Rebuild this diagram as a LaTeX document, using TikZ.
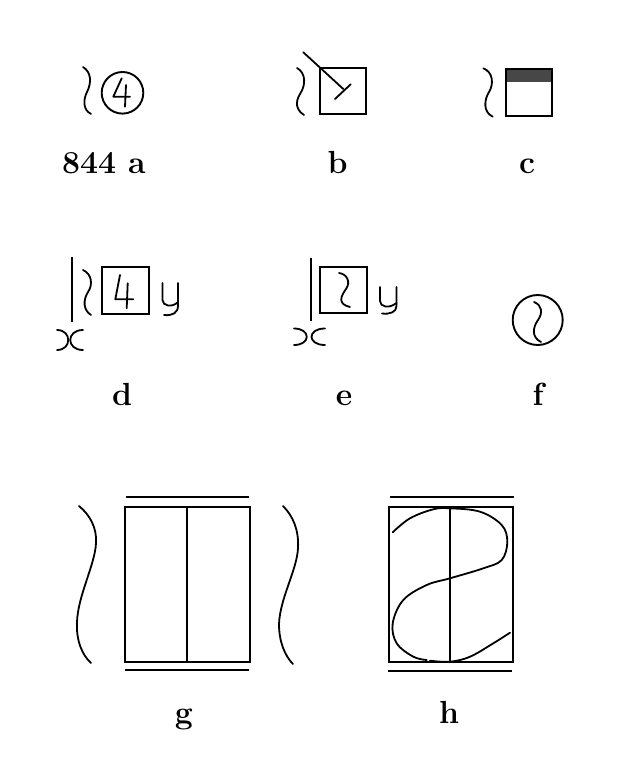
\documentclass[tikz,border=0pt]{standalone}
\begin{document}
\begin{tikzpicture}[x=1pt,y=-1pt,
  ink/.style={line width=1.8pt, line cap=round, line join=round},
  frame/.style={line width=1.9pt},
  thin/.style={line width=1.5pt},
  lab/.style={font=\fontsize{32}{38}\selectfont\bfseries, inner sep=0pt, anchor=base}]
\useasboundingbox (0,0) rectangle (622,781);

% ---------- a ----------
\draw[ink] (83,67) .. controls (91,72) and (92,82) .. (87,92) .. controls (83,100) and (83,110) .. (91,114);
\draw[frame] (122.5,92.8) circle[radius=20.8];
\draw[ink] (121.7,78.3) -- (113.3,96.7) -- (130,96.7);
\draw[ink] (126,85) -- (125,106.7);
\node[lab, anchor=base west] (la) at (62,173) {844 a};

% ---------- b ----------
\draw[ink] (297,68) .. controls (306,73) and (306,85) .. (300,94) .. controls (295,102) and (296,110) .. (304,115);
\draw[frame] (320,68.3) rectangle (366,114.3);
\draw[ink] (303.3,52.3) -- (343.3,89);
\draw[ink] (335,99) -- (350.7,84.3);
\node[lab] (lb) at (337.5,173) {b};

% ---------- c ----------
\draw[ink] (483.3,68.3) .. controls (493,72) and (494,84) .. (489,92) .. controls (484,100) and (483,112) .. (492.7,116.7);
\fill[black!72] (506,69) rectangle (552,81.7);
\draw[frame] (506,69) rectangle (552,115.7);
\node[lab] (lc) at (527,173) {c};

% ---------- d ----------
\draw[frame] (71.7,257) -- (71.7,321.7);
\draw[ink] (83,270) .. controls (92,274) and (93,285) .. (88,292) .. controls (83,300) and (83,310) .. (91,315);
\draw[frame] (101.7,266.7) rectangle (149,314);
\draw[ink] (120,275) -- (115.3,299.3) -- (133.3,299.3);
\draw[ink] (127.7,283.3) -- (126.7,308.3);
% y
\draw[ink] (162.5,283) -- (162.5,300) .. controls (162.5,306) and (172,308) .. (178,302);
\draw[ink] (178,283) -- (178,306) .. controls (178,313) and (172,316) .. (164,315);
% x
\draw[ink] (57,330) .. controls (72,330) and (72,350) .. (57,350);
\draw[ink] (83,330) .. controls (66,330) and (66,350) .. (83,350);
\node[lab] (ld) at (122,405) {d};

% ---------- e ----------
\draw[frame] (310.7,258) -- (310.7,320.7);
\draw[frame] (320,266.7) rectangle (366.7,313.3);
\draw[ink] (339,273) .. controls (347,274) and (351,282) .. (346,289) .. controls (341,296) and (337,304) .. (350,307);
% y
\draw[ink] (380,287) -- (380,301) .. controls (380,307) and (389,309) .. (396.5,303);
\draw[ink] (396.5,287) -- (396.5,306) .. controls (396.5,312) and (390,314.5) .. (382,313.5);
% x
\draw[ink] (294,328.5) .. controls (311,328.5) and (311,345) .. (294,345);
\draw[ink] (325,328.5) .. controls (307,328.5) and (307,345) .. (325,345);
\node[lab] (le) at (344,405) {e};

% ---------- f ----------
\draw[frame] (537.7,320) circle[radius=25];
\draw[ink] (534,302) .. controls (542,305) and (543,313) .. (538,320) .. controls (533,327) and (531,337) .. (541,342);
\node[lab] (lf) at (538,405) {f};

% ---------- g ----------
\draw[ink] (79,506) .. controls (90,515) and (97,528) .. (96,543) .. controls (95,565) and (78,595) .. (77,622) .. controls (76,640) and (82,655) .. (91,663);
\draw[frame] (125.7,497.3) -- (248.7,497.3);
\draw[frame] (125,506.7) rectangle (250,661.7);
\draw[thin] (187,506.7) -- (187,661.7);
\draw[frame] (125,670.3) -- (249.3,670.3);
\draw[ink] (283,506) .. controls (293,516) and (299,530) .. (298,548) .. controls (297,570) and (280,598) .. (279,624) .. controls (279,642) and (285,656) .. (293,664);
\node[lab] (lg) at (184,723) {g};

% ---------- h ----------
\draw[frame] (390,497.3) -- (514,497.3);
\draw[frame] (389.3,506.7) rectangle (513.3,661.7);
\draw[thin] (450,506.7) -- (450,661.7);
\draw[frame] (388.3,670.7) -- (512,670.7);
\draw[ink] plot[smooth, tension=0.6] coordinates {(392.7,532.3) (410,518.3) (433.3,509.3) (450,508.3) (480,511.7) (501.7,525) (507.3,541.7) (501.7,560) (483.3,568.3) (450,578.3) (426.7,585) (403.3,600) (392.7,623.3) (396.7,643.3) (413.3,656.7) (426.7,660)};
\draw[ink] plot[smooth, tension=0.6] coordinates {(430,660.7) (450,661.7) (470,656.7) (493.3,643.3) (510,632.7)};
\node[lab] (lh) at (449,723) {h};
\end{tikzpicture}
\end{document}
